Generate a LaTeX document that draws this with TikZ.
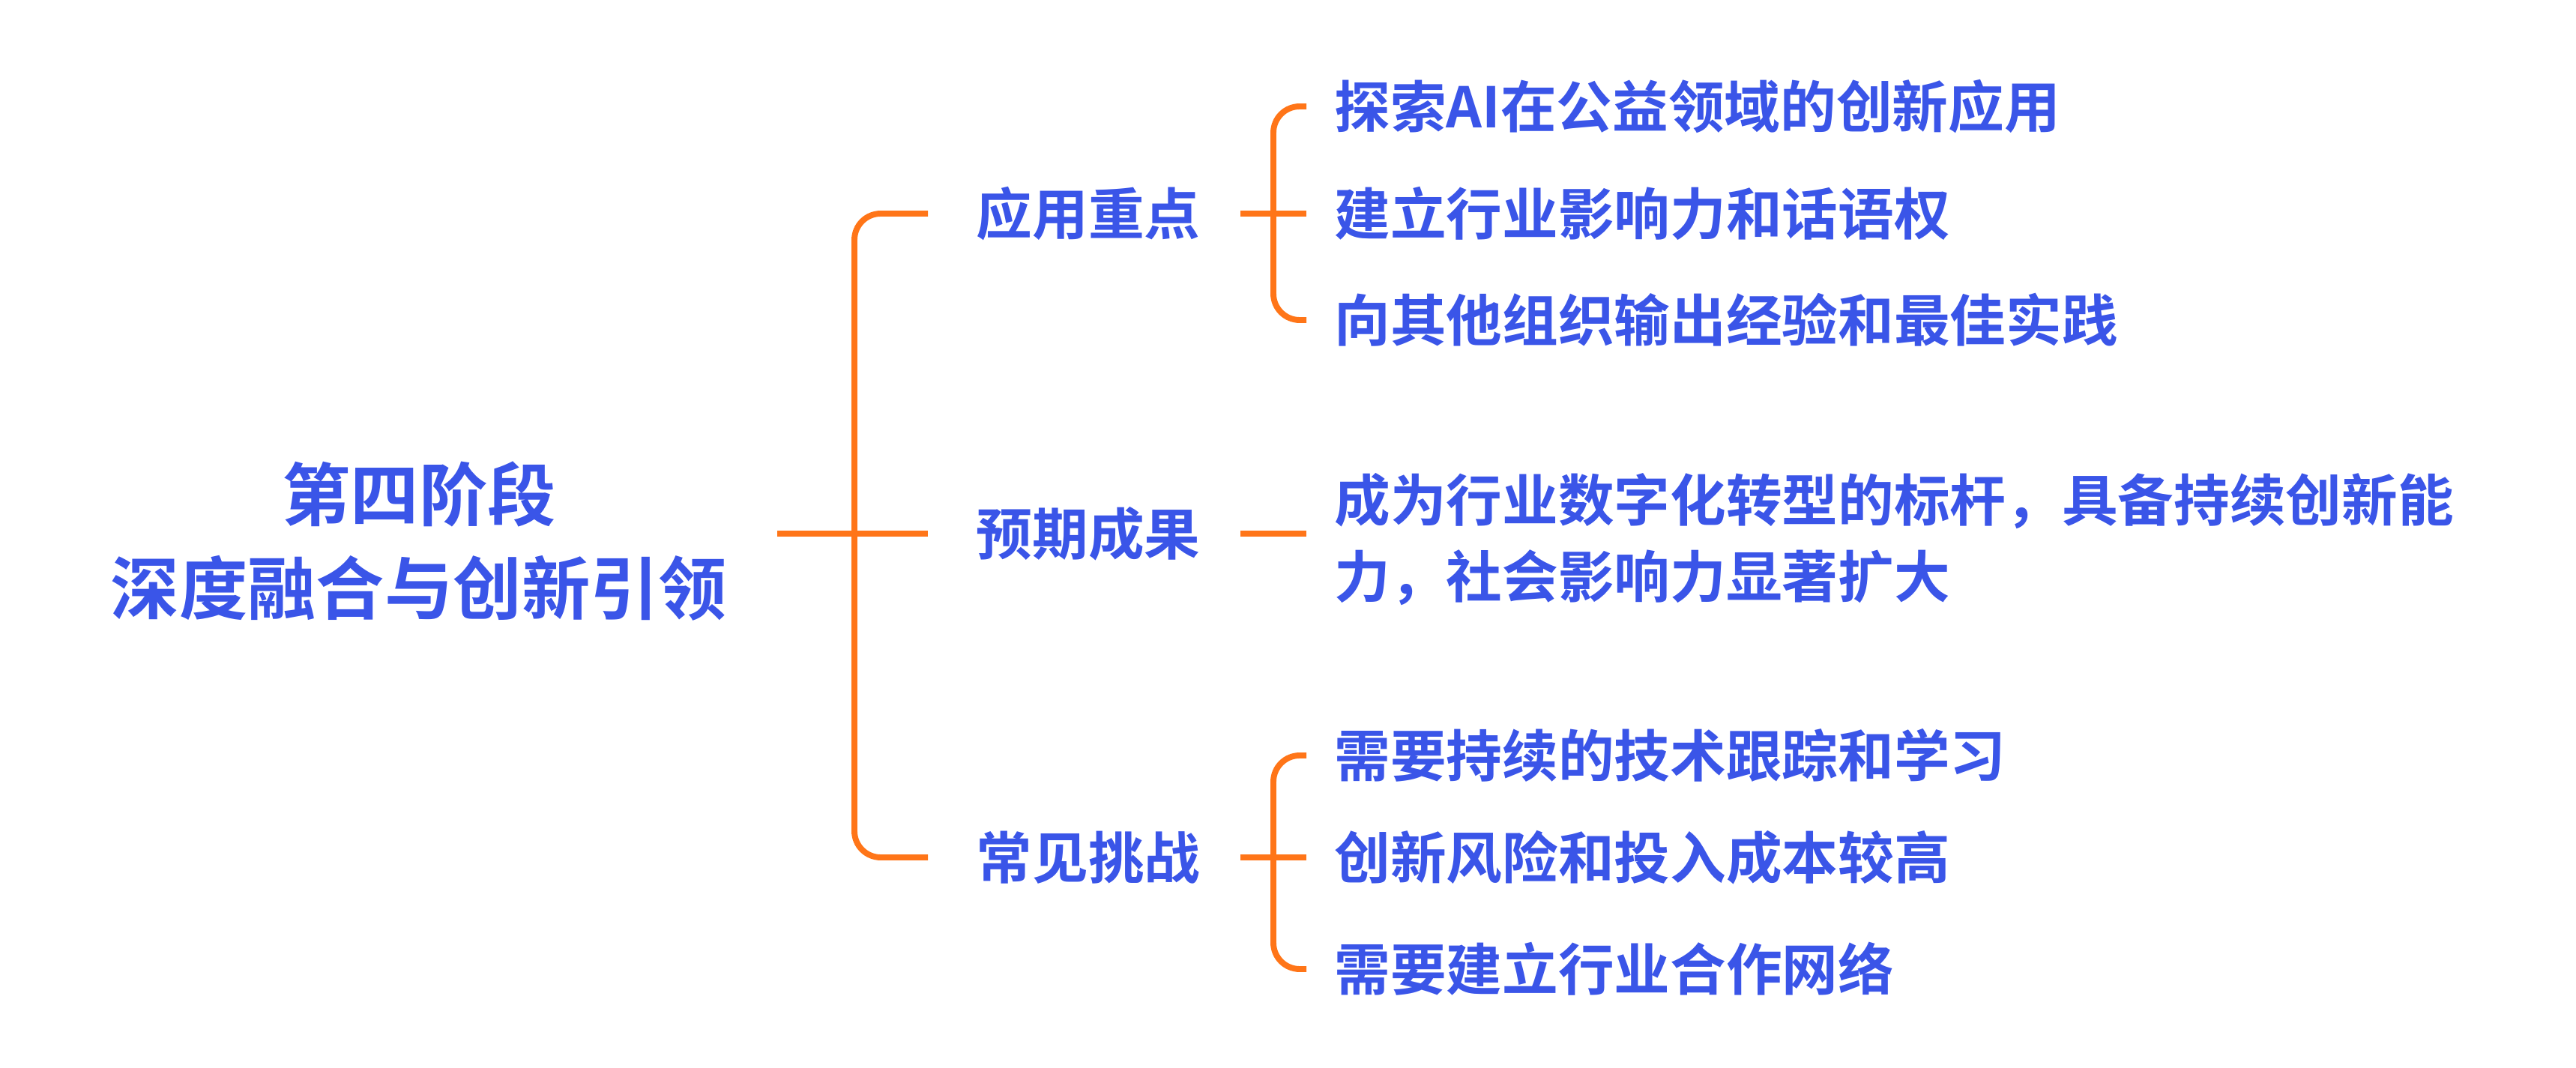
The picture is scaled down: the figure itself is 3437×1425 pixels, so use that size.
\documentclass[tikz,border=0pt]{standalone}
\usepackage{fontspec}
\setmainfont{Noto Sans CJK SC}[BoldFont={Noto Sans CJK SC Bold}]
\definecolor{tb}{HTML}{3A55E8}
\definecolor{lo}{HTML}{FF7518}
\begin{document}
\begin{tikzpicture}[x=0.02cm,y=-0.02cm,
  txt/.style={font=\fontsize{42.5}{58}\selectfont\bfseries,text=tb,inner sep=0pt},
  leaf/.style={txt,anchor=west,align=left},
  con/.style={draw=lo,line width=4.5pt,rounded corners=0.7cm}]
\useasboundingbox (0,0) rectangle (3437,1425);
\node[txt,align=center,font=\fontsize{52}{71}\selectfont\bfseries] (root) at (559,722) {第四阶段\\深度融合与创新引领};
\node[txt] (a) at (1452,285) {应用重点};
\node[txt] (b) at (1452,712) {预期成果};
\node[txt] (c) at (1452,1144) {常见挑战};
\node[leaf] (a1) at (1780,142) {探索AI在公益领域的创新应用};
\node[leaf] (a2) at (1780,285) {建立行业影响力和话语权};
\node[leaf] (a3) at (1780,427) {向其他组织输出经验和最佳实践};
\node[leaf] (b1) at (1780,720) {成为行业数字化转型的标杆，具备持续创新能\\力，社会影响力显著扩大};
\node[leaf] (c1) at (1780,1008) {需要持续的技术跟踪和学习};
\node[leaf] (c2) at (1780,1144) {创新风险和投入成本较高};
\node[leaf] (c3) at (1780,1293) {需要建立行业合作网络};
\coordinate (r0) at (1037,712);
\draw[con] (r0) -- (1238,712);
\draw[con] (1238,285) -- (1140,285) -- (1140,1144) -- (1238,1144);
\draw[con] (1655,285) -- (1743,285);
\draw[con] (1743,142) -- (1699,142) -- (1699,427) -- (1743,427);
\draw[con] (1655,712) -- (1743,712);
\draw[con] (1655,1144) -- (1743,1144);
\draw[con] (1743,1008) -- (1699,1008) -- (1699,1293) -- (1743,1293);
\end{tikzpicture}
\end{document}
